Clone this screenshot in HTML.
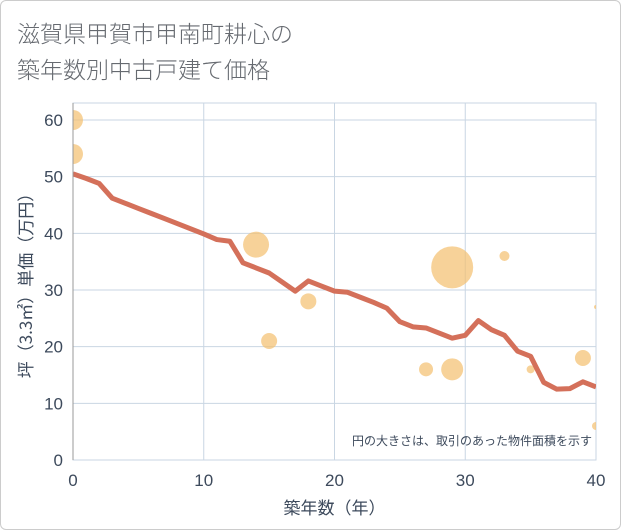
<!DOCTYPE html>
<html><head><meta charset="utf-8">
<style>
html,body{margin:0;padding:0;background:#fff;}
body{width:621px;height:530px;overflow:hidden;font-family:"Liberation Sans","Noto Sans CJK JP",sans-serif;}
.frame{position:absolute;left:0;top:0;width:619px;height:528px;border:1px solid #ccc;border-radius:6px;}
.title{position:absolute;left:17px;top:14px;font-size:23px;line-height:36px;color:#666a70;font-family:"Noto Sans CJK JP",sans-serif;font-weight:300;}
</style></head><body>
<div class="frame"></div>
<div class="title">滋賀県甲賀市甲南町耕心の<br>築年数別中古戸建て価格</div>
<svg id="chart" width="621" height="530" style="position:absolute;left:0;top:0"><defs><clipPath id="plotclip"><rect x="73" y="103" width="523" height="357"/></clipPath></defs></svg>
<script>
const lineX = [0,1,2,3,4,5,6,7,8,9,10,11,12,13,14,15,16,17,18,19,20,21,22,23,24,25,26,27,28,29,30,31,32,33,34,35,36,37,38,39,40];
const lineY = [50.5,49.7,48.8,46.2,45.3,44.4,43.5,42.6,41.7,40.8,39.9,38.9,38.6,34.8,33.9,33,31.4,29.8,31.6,30.7,29.8,29.6,28.7,27.8,26.8,24.4,23.5,23.3,22.4,21.5,22,24.6,23,22,19.2,18.3,13.7,12.5,12.6,13.8,12.9];
const bubX = [0,0,14,15,18,27,29,29,33,35,39,40,40];
const bubY = [60,54,38,21,28,16,34,16,36,16,18,27,6];
const bubR = [10,10,13,8,8,7,21,11,5,4,8,2,4];
const xTicks = [0,10,20,30,40];
const yTicks = [0,10,20,30,40,50,60];
const L=73,R=596,T=103,B=460;
const xs=v=>L+(v/40)*(R-L);
const ys=v=>B-(v/60)*(B-120);
const svg=document.getElementById('chart');
const NS='http://www.w3.org/2000/svg';
function mk(tag,attrs,parent){const e=document.createElementNS(NS,tag);for(const k in attrs)e.setAttribute(k,attrs[k]);(parent||svg).appendChild(e);return e;}
xTicks.forEach(t=>{const g=mk('line',{x1:xs(t),x2:xs(t),y1:T,y2:B,stroke:'#c9d6e3','stroke-width':1});

});
yTicks.forEach(t=>{const g=mk('line',{x1:L,x2:R,y1:ys(t),y2:ys(t),stroke:'#c9d6e3','stroke-width':1});

});
const fr=mk('rect',{x:L,y:T,width:R-L,height:B-T,fill:'none',stroke:'#c9d6e3'});


const gp=mk('g',{'clip-path':'url(#plotclip)'});


bubX.forEach((x,i)=>{const c=mk('circle',{cx:xs(x),cy:ys(bubY[i]),r:bubR[i],fill:'#f3bf6e','fill-opacity':0.7},gp);

});
const p=mk('polyline',{points:lineX.map((x,i)=>xs(x)+','+ys(lineY[i])).join(' '),fill:'none',stroke:'#d4705a','stroke-width':5,'stroke-linejoin':'round'},gp);


const ax=mk('line',{x1:L,x2:L,y1:T,y2:B,stroke:'#999','stroke-width':1});


xTicks.forEach(t=>{const e=mk('text',{x:xs(t),y:486,'text-anchor':'middle','font-size':17,fill:'#3d4a5c'});e.textContent=t;

});
yTicks.forEach(t=>{const e=mk('text',{x:63,y:ys(t)+6,'text-anchor':'end','font-size':17,fill:'#3d4a5c'});e.textContent=t;

});
const xt=mk('text',{x:(L+R)/2,y:514,'text-anchor':'middle','font-size':17,fill:'#3d4a5c','font-family':'Noto Sans CJK JP,sans-serif'});xt.textContent='築年数（年）';


const yt=mk('text',{x:0,y:0,'text-anchor':'middle','font-size':17,fill:'#3d4a5c','font-family':'Noto Sans CJK JP,sans-serif',transform:'translate(32,'+((T+B)/2)+') rotate(-90)'});yt.textContent='坪（3.3㎡）単価（万円）';


const note=mk('text',{x:592,y:445,'text-anchor':'end','font-size':12,fill:'#3d4a5c','font-family':'Noto Sans CJK JP,sans-serif'});note.textContent='円の大きさは、取引のあった物件面積を示す';


</script>
</body></html>
